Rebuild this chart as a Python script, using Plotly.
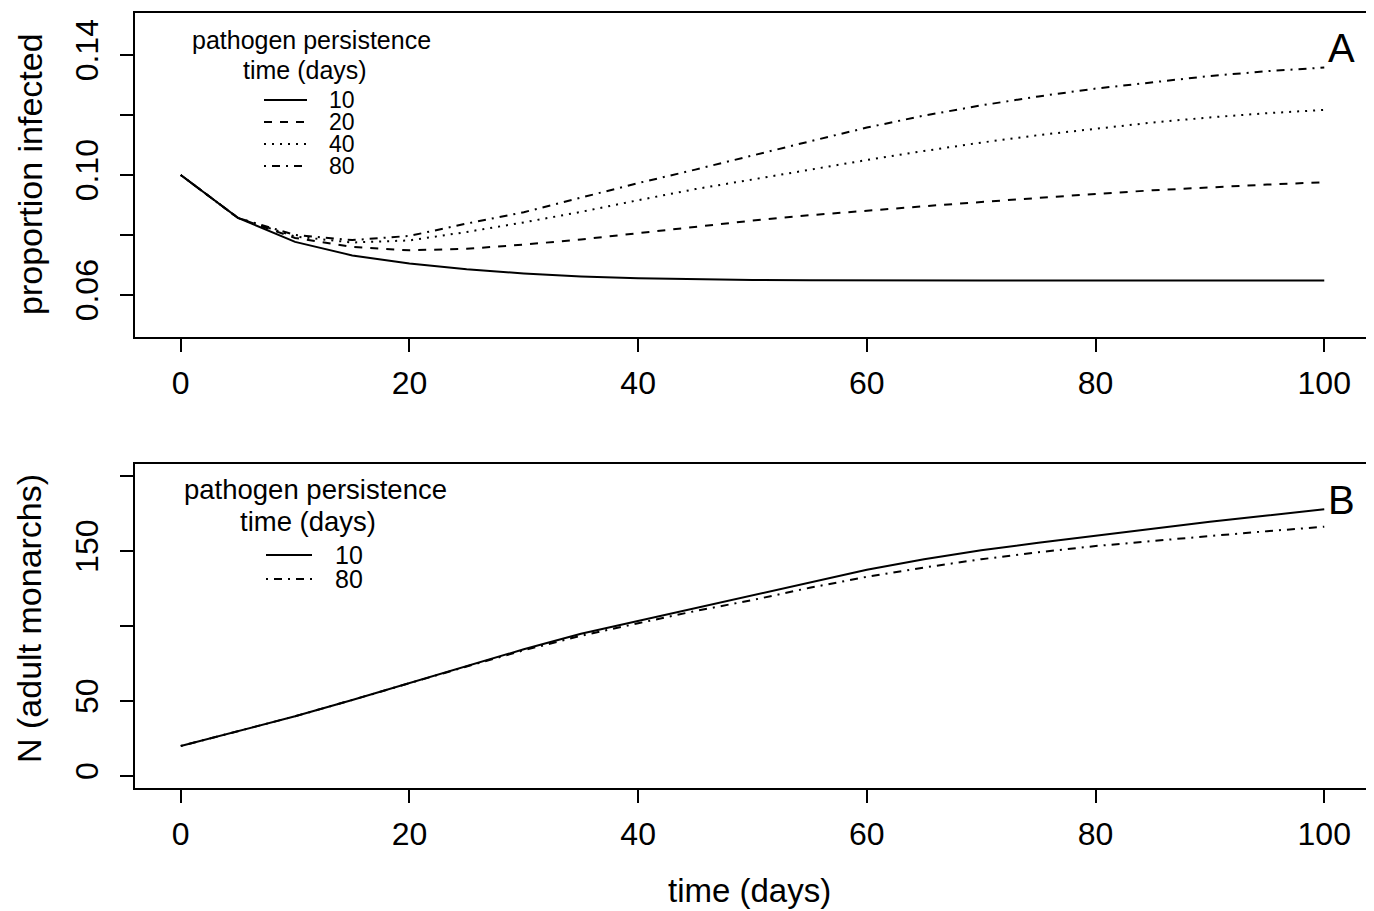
import plotly.graph_objects as go

# ---------------- data ----------------
days = [0, 5, 10, 15, 20, 25, 30, 35, 40, 45, 50, 55, 60, 65, 70, 75, 80, 85, 90, 95, 100]

# Panel A: proportion infected, by pathogen persistence time (days)
prop_10 = [0.1000, 0.0857, 0.0777, 0.0732, 0.0705, 0.0686, 0.0672, 0.0662, 0.0656, 0.0652, 0.0650,
           0.0649, 0.0648, 0.0648, 0.0648, 0.0648, 0.0648, 0.0648, 0.0648, 0.0648, 0.0648]
prop_20 = [0.1000, 0.0857, 0.0790, 0.0760, 0.0749, 0.0754, 0.0768, 0.0785, 0.0806, 0.0828, 0.0848,
           0.0866, 0.0882, 0.0896, 0.0910, 0.0924, 0.0937, 0.0949, 0.0959, 0.0968, 0.0976]
prop_40 = [0.1000, 0.0857, 0.0795, 0.0775, 0.0782, 0.0810, 0.0842, 0.0877, 0.0916, 0.0953, 0.0985,
           0.1018, 0.1050, 0.1080, 0.1108, 0.1133, 0.1155, 0.1175, 0.1192, 0.1206, 0.1217]
prop_80 = [0.1000, 0.0857, 0.0800, 0.0783, 0.0797, 0.0838, 0.0876, 0.0925, 0.0973, 0.1018, 0.1066,
           0.1112, 0.1158, 0.1198, 0.1232, 0.1262, 0.1288, 0.1310, 0.1330, 0.1346, 0.1358]

# Panel B: N (adult monarchs)
n_10 = [20, 30, 39.8, 50.7, 62, 73.3, 84.5, 94.8, 103.4, 112.2, 120.5,
        129, 137.5, 144.5, 150.5, 155.5, 160.3, 165, 169.5, 173.7, 177.8]
n_80 = [20, 30, 39.8, 50.7, 62, 73, 83.8, 93.5, 101.8, 110, 117.3,
        125.5, 132.8, 139.0, 144.5, 149.2, 153.3, 156.8, 160.0, 163.2, 166.2]

persist_A = ["10", "20", "40", "80"]
persist_B = ["10", "80"]

x_ticks = [0, 20, 40, 60, 80, 100]
yA_ticks = [0.06, 0.08, 0.10, 0.12, 0.14]
yA_text = ["0.06", "", "0.10", "", "0.14"]
yB_ticks = [0, 50, 100, 150, 200]
yB_text = ["0", "50", "", "150", ""]

# ---------------- styling ----------------
FONT = "Liberation Sans, Arial, Helvetica, sans-serif"
PAGE_W, PAGE_H = 1374, 911
OFF = 8  # default body margin of the html page
W, H = PAGE_W - OFF, PAGE_H - OFF
# plot area in page pixels: x 135..1370, y 13..788
PL, PR, PT, PB = 135, 1370, 13, 788
L, T = PL - OFF, PT - OFF
R = W - (PR - OFF)
B = H - (PB - OFF)

def px(xp):
    return (xp - PL) / (PR - PL)

def py(yp):
    return (PB - yp) / (PB - PT)

DASH = {"10": "solid", "20": "8px,8px", "40": "2px,6px", "80": "2px,6px,8px,6px"}
LW = 2

fig = go.Figure()
for name, ys in zip(persist_A, [prop_10, prop_20, prop_40, prop_80]):
    fig.add_trace(go.Scatter(x=days, y=ys, mode="lines", name=name,
                             line=dict(color="black", width=LW, dash=DASH[name]),
                             xaxis="x", yaxis="y", showlegend=False))
for name, ys in zip(persist_B, [n_10, n_80]):
    fig.add_trace(go.Scatter(x=days, y=ys, mode="lines", name=name,
                             line=dict(color="black", width=LW, dash=DASH[name]),
                             xaxis="x2", yaxis="y2", showlegend=False))

axis_common = dict(showline=True, mirror=True, linecolor="black", linewidth=2,
                   ticks="outside", ticklen=13, tickwidth=2, tickcolor="black",
                   showgrid=False, zeroline=False,
                   tickfont=dict(family=FONT, size=32, color="black"))

dom_A = [py(337), py(13)]
dom_B = [py(788), py(464)]

fig.update_layout(
    width=W, height=H,
    margin=dict(l=L, r=R, t=T, b=B, autoexpand=False),
    paper_bgcolor="white", plot_bgcolor="white",
    xaxis=dict(domain=[0, 1], range=[-4, 104], tickvals=x_ticks, anchor="y",
               ticklabelstandoff=4, **axis_common),
    yaxis=dict(domain=dom_A, range=[0.0460, 0.1540], tickvals=yA_ticks, ticktext=yA_text,
               tickangle=-90, anchor="x", ticklabelstandoff=9, **axis_common),
    xaxis2=dict(domain=[0, 1], range=[-4, 104], tickvals=x_ticks, anchor="y2",
                ticklabelstandoff=4, **axis_common),
    yaxis2=dict(domain=dom_B, range=[-8, 208], tickvals=yB_ticks, ticktext=yB_text,
                tickangle=-90, anchor="x2", ticklabelstandoff=9, **axis_common),
    showlegend=False,
)

ann = []
def text(xp, yp, s, size, xanchor="center", angle=0):
    ann.append(dict(x=px(xp), y=py(yp), xref="paper", yref="paper", text=s,
                    showarrow=False, xanchor=xanchor, yanchor="middle", textangle=angle,
                    font=dict(family=FONT, size=size, color="black")))

# axis titles
text(30, 174, "proportion infected", 34, angle=-90)
text(29, 619, "N (adult monarchs)", 34, angle=-90)
text(749, 890, "time (days)", 33)
# panel letters
text(1341, 48, "A", 40)
text(1341, 500, "B", 40)

shapes = []
def sample(x0, x1, yp, name):
    shapes.append(dict(type="line", xref="paper", yref="paper",
                       x0=px(x0), x1=px(x1), y0=py(yp), y1=py(yp),
                       line=dict(color="black", width=LW, dash=DASH[name])))

# legend A
text(311, 40, "pathogen persistence", 25)
text(305, 70, "time (days)", 25)
for name, yy in zip(persist_A, [100, 122, 144, 166]):
    sample(264, 307, yy, name)
    text(327, yy, name, 23, xanchor="left")

# legend B
text(315, 489, "pathogen persistence", 27.5)
text(308, 521, "time (days)", 27.5)
for name, yy in zip(persist_B, [555, 579]):
    sample(266, 312, yy, name)
    text(333, yy, name, 25, xanchor="left")

fig.update_layout(annotations=ann, shapes=shapes)

fig.write_html("out.html")
